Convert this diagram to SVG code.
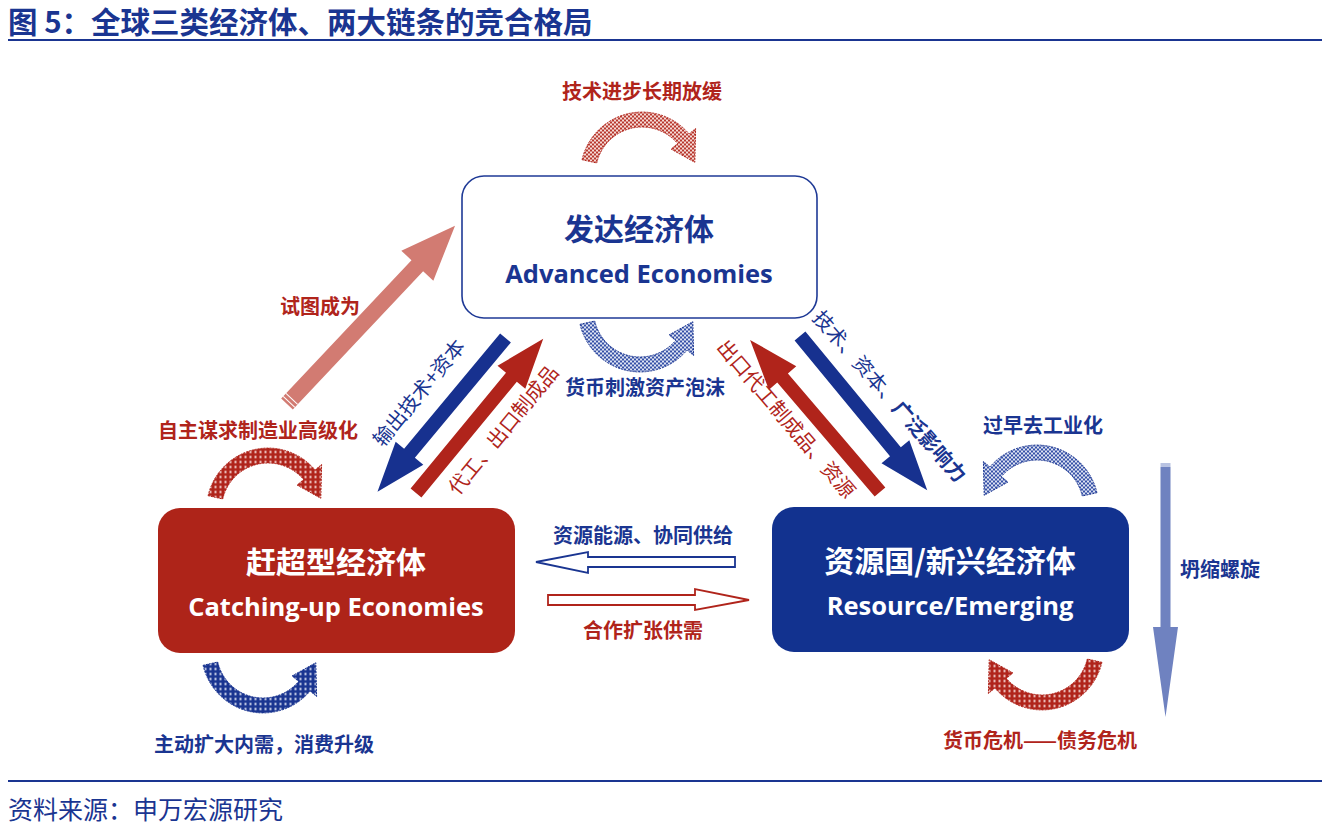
<svg xmlns="http://www.w3.org/2000/svg" xmlns:xlink="http://www.w3.org/1999/xlink" width="1322" height="830" viewBox="0 0 1322 830">
<style>
.t{font-family:"Noto Sans CJK SC","Noto Sans",sans-serif}
.blue{fill:#1a3591}
.red{fill:#b0241b}
.lbl{font-family:"Noto Sans CJK SC","Noto Sans",sans-serif;font-size:20px;font-weight:700;text-anchor:middle}
.rot{font-family:"Noto Sans CJK SC","Noto Sans",sans-serif;font-size:20px;font-weight:400;text-anchor:middle}
.cn{font-family:"Noto Sans CJK SC","Noto Sans",sans-serif;font-size:30px;font-weight:700;text-anchor:middle}
.en{font-family:"Open Sans","Noto Sans",sans-serif;font-size:25.5px;font-weight:700;text-anchor:middle}
.lr{stroke:#b0241b;stroke-width:1;stroke-dasharray:2 1}
.lb{stroke:#1a3591;stroke-width:1;stroke-dasharray:2 1}
</style>
<defs>
<pattern id="ckR" width="4" height="4" patternUnits="userSpaceOnUse"><rect width="4" height="4" fill="#f6dcd8"/><rect width="2" height="2" fill="#b8372d"/><rect x="2" y="2" width="2" height="2" fill="#b8372d"/></pattern>
<pattern id="ckB" width="4" height="4" patternUnits="userSpaceOnUse"><rect width="4" height="4" fill="#dfe4f3"/><rect width="2" height="2" fill="#3550a6"/><rect x="2" y="2" width="2" height="2" fill="#3550a6"/></pattern>
<pattern id="dtR" width="5" height="5" patternUnits="userSpaceOnUse"><rect width="5" height="5" fill="#b0241b"/><rect x="1.5" y="1.5" width="2" height="2" fill="#fbe9e6"/></pattern>
<pattern id="dtB" width="5" height="5" patternUnits="userSpaceOnUse"><rect width="5" height="5" fill="#1a3591"/><rect x="1.5" y="1.5" width="2" height="2" fill="#e8ecf8"/></pattern>
<path id="ca" d="M -59.9,-13.8 A 61.5 61.5 0 0 1 47.1,-39.5 L 53.6,-45 L 52.8,-11.2 L 29.1,-24.4 L 35.6,-29.9 A 46.5 46.5 0 0 0 -45.3,-10.5 Z"/>
<polygon id="sa" points="0,-7 150,-7 150,-18 200,0 150,18 150,7 0,7"/>
</defs>
<rect width="1322" height="830" fill="#fff"/>

<g id="header">
<text x="8" y="33" class="t blue" font-size="29.5" font-weight="700">图 5：全球三类经济体、两大链条的竞合格局</text>
<rect x="8" y="39" width="1314" height="2" fill="#1a3591"/>
</g>

<g id="connectors">
<use href="#ca" transform="translate(642,173.5)" fill="url(#ckR)" class="lr"/>
<text x="642" y="99" class="lbl red">技术进步长期放缓</text>

<use href="#ca" transform="translate(640,310.5) scale(1,-1)" fill="url(#ckB)" class="lb"/>
<text x="645" y="395" class="lbl blue">货币刺激资产泡沫</text>

<use href="#ca" transform="translate(268,509.5)" fill="url(#dtR)" class="lr"/>
<text x="258" y="438" class="lbl red">自主谋求制造业高级化</text>

<use href="#ca" transform="translate(263,651.5) scale(1,-1)" fill="url(#dtB)" class="lb"/>
<text x="264" y="752" class="lbl blue">主动扩大内需，消费升级</text>

<use href="#ca" transform="translate(1037,506.5) scale(-1,1)" fill="url(#ckB)" class="lb"/>
<text x="1043" y="433" class="lbl blue">过早去工业化</text>

<use href="#ca" transform="translate(1042,648.5) scale(-1,-1)" fill="url(#dtR)" class="lr"/>
<text x="1040" y="748" class="lbl red">货币危机——债务危机</text>

<g transform="translate(287,404) rotate(-46.7)">
<polygon points="0,-8 190,-8 190,-22 245,0 190,22 190,8 0,8" fill="#d27b72"/>
<line x1="3" y1="-8" x2="3" y2="8" stroke="#fff" stroke-width="1"/>
<line x1="7" y1="-8" x2="7" y2="8" stroke="#fff" stroke-width="1"/>
</g>
<text x="320" y="314" class="lbl red">试图成为</text>

<use href="#sa" transform="translate(505.5,338) rotate(129.8)" fill="#17318f"/>
<use href="#sa" transform="translate(416,493) rotate(-50.5)" fill="#b0241b"/>
<use href="#sa" transform="translate(880,492) rotate(-130.5)" fill="#b0241b"/>
<use href="#sa" transform="translate(800,336) rotate(50.5)" fill="#17318f"/>
<text class="rot blue" transform="translate(419,393) rotate(-50.5)" dy="7">输出技术+资本</text>
<text class="rot red" transform="translate(503.5,430) rotate(-50.5)" dy="7">代工、出口制成品</text>
<text class="rot red" transform="translate(786,419) rotate(49.5)" dy="7">出口代工制成品、资源</text>
<text class="rot blue" transform="translate(889.5,396.5) rotate(48.6)" dy="7">技术、资本、<tspan font-weight="700">广泛影响力</tspan></text>

<polygon points="735,557 588,557 588,552 536,562 588,573 588,567 735,567" fill="#fff" stroke="#1a3591" stroke-width="1.8"/>
<text x="643" y="543" class="lbl blue">资源能源、协同供给</text>
<polygon points="548,595 695,595 695,589 749,600 695,610 695,605 548,605" fill="#fff" stroke="#b0241b" stroke-width="1.8"/>
<text x="643" y="638" class="lbl red">合作扩张供需</text>

<rect x="1160.5" y="463" width="10" height="4" fill="#b9c3e2"/>
<polygon points="1160.5,467 1170.5,467 1170.5,627 1178,627 1165.5,717 1153,627 1160.5,627" fill="#6f82c0"/>
<text x="1180" y="577" class="t blue" font-size="20" font-weight="700">坍缩螺旋</text>
</g>

<g id="advanced">
<rect x="462" y="176" width="355" height="142" rx="22" fill="#fff" stroke="#1f3a96" stroke-width="1.6"/>
<text x="639" y="240" class="cn blue">发达经济体</text>
<text x="639" y="283" class="en blue">Advanced Economies</text>
</g>

<g id="catching">
<rect x="158" y="508" width="357" height="145" rx="22" fill="#ae2419"/>
<text x="336" y="573" class="cn" fill="#fff">赶超型经济体</text>
<text x="336" y="616" class="en" fill="#fff">Catching-up Economies</text>
</g>

<g id="resource">
<rect x="772" y="507" width="357" height="145" rx="22" fill="#12328f"/>
<text x="950" y="572" class="cn" fill="#fff">资源国/新兴经济体</text>
<text x="950" y="615" class="en" fill="#fff">Resource/Emerging</text>
</g>

<g id="footer">
<rect x="8" y="780" width="1314" height="2" fill="#1a3591"/>
<text x="8" y="819" class="t blue" font-size="25">资料来源：申万宏源研究</text>
</g>
</svg>
